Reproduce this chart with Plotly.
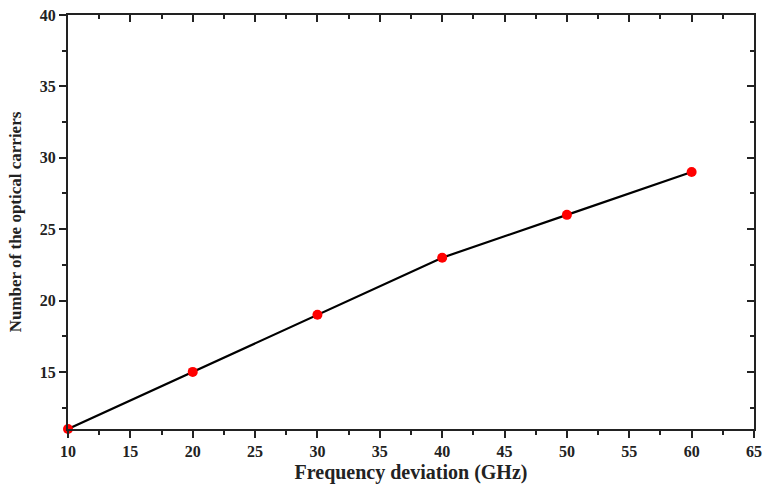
import plotly.graph_objects as go

freq = [10, 20, 30, 40, 50, 60]
carriers = [11, 15, 19, 23, 26, 29]
x_ticks = [10, 15, 20, 25, 30, 35, 40, 45, 50, 55, 60, 65]
y_ticks = [15, 20, 25, 30, 35, 40]

font_fam = "Liberation Serif"
fig = go.Figure()
fig.add_trace(go.Scatter(x=freq, y=carriers, mode="lines+markers",
                         line=dict(color="black", width=2.2),
                         marker=dict(color="#ff0000", size=10, symbol="circle"),
                         cliponaxis=False, showlegend=False))
fig.add_trace(go.Scatter(x=[10], y=[11], xaxis="x2", yaxis="y2", mode="markers",
                         marker=dict(opacity=0), showlegend=False, hoverinfo="skip"))

common = dict(showgrid=False, zeroline=False, showline=True, linecolor="#222", linewidth=2,
              tickcolor="#222", tickwidth=2, automargin=False)
tf = dict(family=font_fam, size=16, color="#222")
fig.update_layout(
    width=764, height=484, plot_bgcolor="white", paper_bgcolor="white",
    margin=dict(l=68, r=10, t=15, b=55),
    xaxis=dict(range=[10, 65], tickvals=x_ticks, ticktext=[f"<b>{v}</b>" for v in x_ticks],
               ticks="outside", ticklen=7,
               minor=dict(ticks="outside", dtick=2.5, ticklen=4, tickcolor="#222", tickwidth=2),
               tickfont=tf,
               title=dict(text="<b>Frequency deviation (GHz)</b>", standoff=12,
                          font=dict(family=font_fam, size=20, color="#222")),
               **common),
    yaxis=dict(range=[11, 40], tickvals=y_ticks, ticktext=[f"<b>{v}</b>" for v in y_ticks],
               ticks="outside", ticklen=7,
               minor=dict(ticks="outside", dtick=2.5, tick0=12.5, ticklen=4, tickcolor="#222", tickwidth=2),
               tickfont=tf,
               title=dict(text="<b>Number of the optical carriers</b>", standoff=14,
                          font=dict(family=font_fam, size=17, color="#222")),
               **common),
    xaxis2=dict(range=[10, 65], overlaying="x", side="top", anchor="y", tick0=10, dtick=5,
                ticks="inside", ticklen=7, showticklabels=False,
                minor=dict(ticks="inside", dtick=2.5, ticklen=4, tickcolor="#222", tickwidth=2),
                **common),
    yaxis2=dict(range=[11, 40], overlaying="y", side="right", anchor="x", tick0=15, dtick=5,
                ticks="inside", ticklen=7, showticklabels=False,
                minor=dict(ticks="inside", dtick=2.5, tick0=12.5, ticklen=4, tickcolor="#222", tickwidth=2),
                **common),
)
fig.write_html("out.html")
